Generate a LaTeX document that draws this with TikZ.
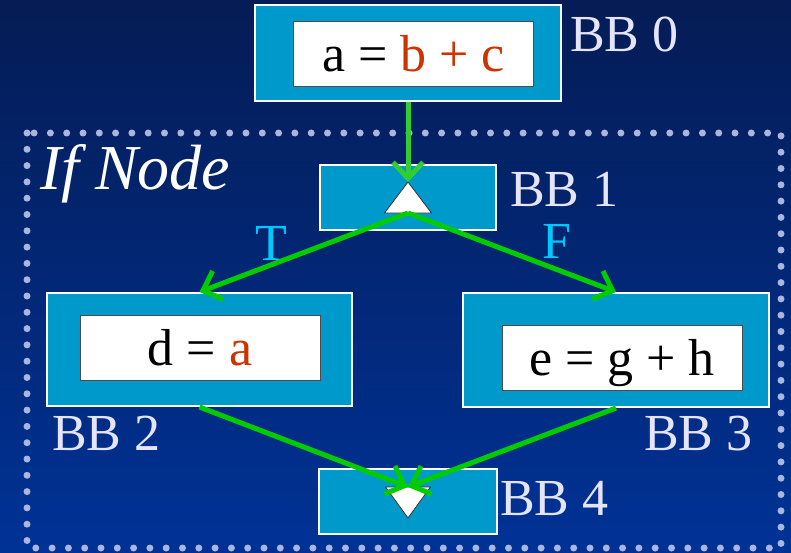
\documentclass[tikz,border=0pt]{standalone}
\usepackage{fontspec}
\setmainfont{Liberation Serif}
\usetikzlibrary{arrows.meta}
\definecolor{bbfill}{RGB}{0,153,204}
\definecolor{bblabel}{RGB}{228,228,250}
\definecolor{tfcol}{RGB}{0,200,255}
\definecolor{usecol}{RGB}{204,51,0}
\definecolor{edgegreen}{RGB}{0,204,0}
\definecolor{entrygreen}{RGB}{50,205,50}
\definecolor{dotcol}{RGB}{170,182,222}
\definecolor{bgtop}{RGB}{5,28,85}
\definecolor{bgbot}{RGB}{0,50,150}
\begin{document}
\begin{tikzpicture}[x=1pt, y=-1pt,
    bbbox/.style={rectangle, draw=white, line width=2pt, fill=bbfill, inner sep=0pt},
    stmt/.style={rectangle, draw=black!70, line width=1pt, fill=white, minimum width=240pt, minimum height=65pt, inner sep=0pt, text height=36pt, text depth=0pt, font=\fontsize{52}{58}\selectfont},
    bblab/.style={anchor=base west, inner sep=0pt, text=bblabel, font=\fontsize{52}{58}\selectfont},
    edgelab/.style={anchor=base west, inner sep=0pt, text=tfcol, font=\fontsize{52}{58}\selectfont},
    tri/.style={fill=white, draw=black!80, line width=0.8pt, line join=miter},
    dotframe/.style={draw=dotcol, line width=7pt, line cap=round, dash pattern=on 0pt off 16.3pt},
    arr/.style={-{Straight Barb[length=16pt,width=30pt,line width=5pt]}, line width=5pt, draw=edgegreen}
]
% background and if-node frame
\shade[top color=bgtop, bottom color=bgbot] (0,0) rectangle (791,553);
\draw[dotframe] (27,133) rectangle (781,548);
\node[anchor=base west, inner sep=0pt, text=white, font=\fontsize{64}{70}\selectfont\itshape] (ifnode) at (40,190) {If Node};

% basic blocks
\node[bbbox, minimum width=306pt, minimum height=96pt] (bb0) at (408,53) {};
\node[stmt] (s0) at (413.5,54) {a = \textcolor{usecol}{b + c}};
\node[bblab] (l0) at (570,52) {BB 0};

\node[bbbox, minimum width=176pt, minimum height=65pt] (bb1) at (408,197.5) {};
\coordinate (top1) at (408,182);
\coordinate (base1) at (408,213);
\draw[tri] (top1) -- ([xshift=-23.5pt]base1) -- ([xshift=23.5pt]base1) -- cycle;
\node[bblab] (l1) at (510,207) {BB 1};

\node[bbbox, minimum width=305pt, minimum height=113pt] (bb2) at (199.5,349.5) {};
\node[stmt] (s2) at (200,347.5) {d = \textcolor{usecol}{a}};
\node[bblab] (l2) at (52,450) {BB 2};

\node[bbbox, minimum width=306pt, minimum height=114pt] (bb3) at (616,350) {};
\node[stmt] (s3) at (622,357.5) {e = g + h};
\node[bblab] (l3) at (644,450) {BB 3};

\node[bbbox, minimum width=178pt, minimum height=65pt] (bb4) at (408,501.5) {};
\coordinate (base4) at (408,487);
\coordinate (tip4) at (408,518);
\draw[tri] ([xshift=-22.5pt]base4) -- ([xshift=22.5pt]base4) -- (tip4) -- cycle;
\node[bblab] (l4) at (500,515) {BB 4};

% edges
\draw[arr, draw=entrygreen] (bb0) -- (top1);
\draw[arr] (base1) -- (bb2.north);
\draw[arr] (base1) -- (bb3.north);
\draw[arr] (bb2.south) -- (base4);
\draw[arr] (bb3.south) -- (base4);
\node[edgelab] (tlab) at (255,260) {T};
\node[edgelab] (flab) at (542,258) {F};
\end{tikzpicture}
\end{document}
